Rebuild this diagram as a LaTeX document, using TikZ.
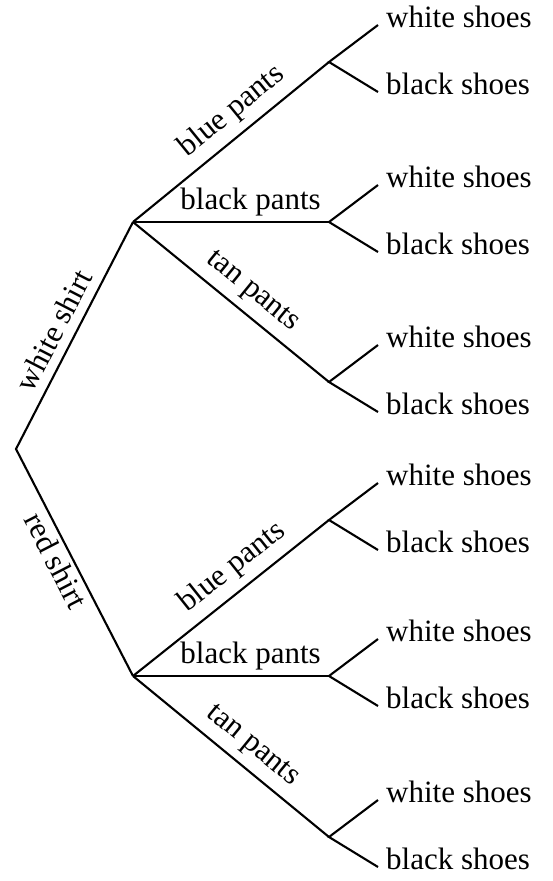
\documentclass[tikz,border=0pt]{standalone}
\usepackage{fontspec}
\setmainfont{Liberation Serif}
\usetikzlibrary{positioning}

\begin{document}
\begin{tikzpicture}[
    x=1pt, y=-1pt,
    branch/.style={line width=2.1pt},
    lbl/.style={font=\fontsize{31}{36}\selectfont, sloped, above, inner sep=8pt},
    leaf/.style={font=\fontsize{31}{36}\selectfont, inner xsep=8pt, inner ysep=0pt}
  ]
    \useasboundingbox (0,0) rectangle (552,881);

    \coordinate (r) at (16,449);
    \coordinate (ws) at (133,222);
    \coordinate (rs) at (133,676);

    \coordinate (wbp) at (329,62);
    \coordinate (wkp) at (329,222);
    \coordinate (wtp) at (329,382);
    \coordinate (rbp) at (329,520);
    \coordinate (rkp) at (329,676);
    \coordinate (rtp) at (329,837);

    \foreach \n in {wbp,wkp,wtp,rbp,rkp,rtp} {
      \node[leaf, above right=37pt and 49pt of \n, anchor=mid west] (\n1) {white shoes};
      \node[leaf, below right=30pt and 49pt of \n, anchor=mid west] (\n2) {black shoes};
      \draw[branch] (\n1.mid west) -- (\n) -- (\n2.mid west);
    }

    \draw[branch] (ws) -- node[lbl, pos=0.52, inner sep=9pt] {white shirt} (r)
      -- node[lbl, below, pos=0.46, inner sep=3.4pt] {red shirt} (rs);

    \draw[branch] (ws) -- node[lbl, pos=0.58] {blue pants} (wbp);
    \draw[branch] (ws) -- node[lbl, pos=0.6, inner sep=4.5pt] {black pants} (wkp);
    \draw[branch] (ws) -- node[lbl, pos=0.54] {tan pants} (wtp);
    \draw[branch] (rs) -- node[lbl, pos=0.58] {blue pants} (rbp);
    \draw[branch] (rs) -- node[lbl, pos=0.6, inner sep=4.5pt] {black pants} (rkp);
    \draw[branch] (rs) -- node[lbl, pos=0.54] {tan pants} (rtp);
  \end{tikzpicture}
\end{document}
